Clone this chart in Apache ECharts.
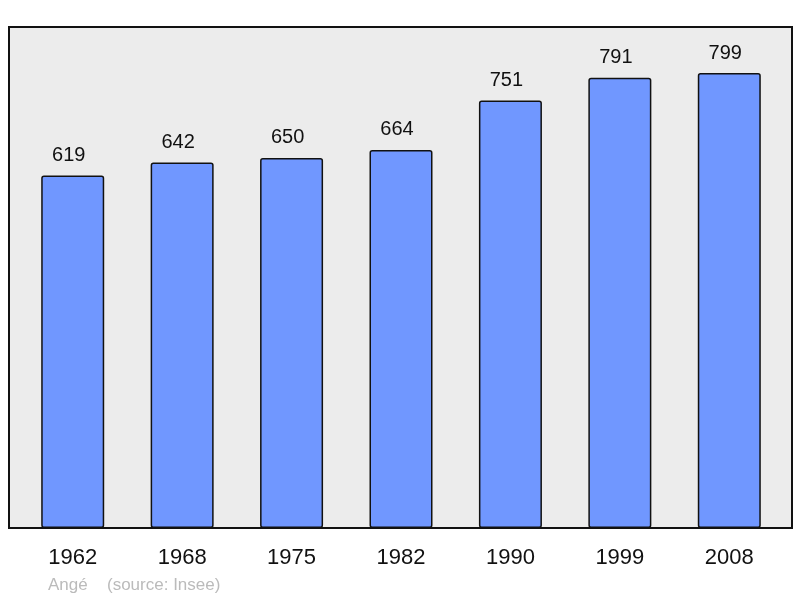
<!DOCTYPE html>
<html lang="fr">
	<head>
		<meta charset="UTF-8">
		<title>Ange - population</title>
		<style>
			html, body { margin: 0; padding: 0; background: #fff; }
			#chart { width: 800px; height: 598px; }
		</style>
	</head>
	<body>
		<div id="chart"></div>
		<script src="https://cdn.jsdelivr.net/npm/echarts@6/dist/echarts.min.js"></script>
		<script>
			var years = ['1962', '1968', '1975', '1982', '1990', '1999', '2008']
			var population = [619, 642, 650, 664, 751, 791, 799]

			var chart = echarts.init(document.getElementById('chart'))
			var option = {
				animation: false,
				textStyle: { fontFamily: 'Liberation Sans, Arial, sans-serif' },
				title: [
					{ text: 'Angé', left: 48, top: 577, padding: 0, textStyle: { fontSize: 17, fontWeight: 'normal', color: '#bbbbbb' } },
					{ text: '(source: Insee)', left: 107, top: 577, padding: 0, textStyle: { fontSize: 17, fontWeight: 'normal', color: '#bbbbbb' } }
				],
				grid: [
					// frame only
					{ left: 9, right: 8, top: 27, bottom: 70, show: true, backgroundColor: '#ececec', borderColor: '#111', borderWidth: 2 },
					// bars
					{ left: 18, right: 16, top: 27, bottom: 70 }
				],
				xAxis: [
					{ gridIndex: 0, type: 'value', show: false },
					{
						gridIndex: 1,
						type: 'category',
						data: years,
						axisLine: { show: false },
						axisTick: { show: false },
						axisLabel: { fontSize: 22, color: '#111', margin: 19 }
					}
				],
				yAxis: [
					{ gridIndex: 0, type: 'value', show: false },
					{ gridIndex: 1, type: 'value', min: 0, max: 880, show: false }
				],
				series: [
					{
						type: 'bar',
						xAxisIndex: 1,
						yAxisIndex: 1,
						data: population,
						barWidth: 63,
						itemStyle: { color: '#7097ff', borderColor: '#111', borderWidth: 1.5, borderRadius: 2 },
						label: { show: true, position: 'top', distance: 10, offset: [-4, 0], fontSize: 20, color: '#111' }
					}
				]
			}
			chart.setOption(option)
		</script>
	</body>
</html>
